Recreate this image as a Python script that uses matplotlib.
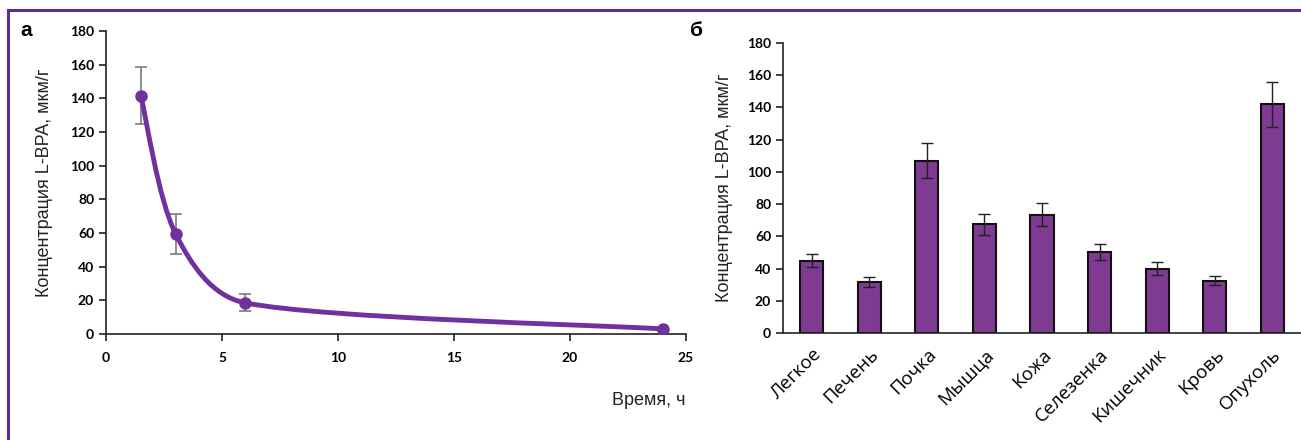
import numpy as np
import matplotlib
matplotlib.use('Agg')
import matplotlib.pyplot as plt
from matplotlib.path import Path
from matplotlib.patches import PathPatch
from matplotlib.lines import Line2D

# panel a: concentration vs time
time_h = [1.5, 3, 6, 24]
conc_time = [141.5, 59.5, 18.5, 3.0]
err_time = [17, 12, 5, 1]

# panel b: organ distribution
organs = ['Легкое', 'Печень', 'Почка', 'Мышца', 'Кожа', 'Селезенка',
          'Кишечник', 'Кровь', 'Опухоль']
conc_organ = [45, 31.5, 107, 67.5, 73.5, 50.5, 40, 32.5, 142]
err_organ = [4, 3, 11, 6.5, 7, 5, 4, 3, 14]

line_c = '#7030a0'
bar_c = '#7f3a91'
frame_c = '#5b2d90'
ylab = 'Концентрация L-BPA, мкм/г'

fig = plt.figure(figsize=(13.01, 4.40), dpi=100)
fig.add_artist(Line2D([8/1301, 8/1301], [0, 1 - 10.5/440], color=frame_c, lw=2.2,
                      transform=fig.transFigure))
fig.add_artist(Line2D([8/1301, 1300/1301], [1 - 10.5/440, 1 - 10.5/440], color=frame_c,
                      lw=2.2, transform=fig.transFigure))


def style(ax):
    for s in ['top', 'right']:
        ax.spines[s].set_visible(False)
    for s in ['left', 'bottom']:
        ax.spines[s].set_color('#222222')
        ax.spines[s].set_linewidth(1.2)
    ax.tick_params(direction='out', length=5, width=1.2, color='#222222')
    for lab in ax.get_yticklabels():
        lab.set_fontfamily('Lato')
        lab.set_fontweight('bold')
        lab.set_fontsize(10)


# ---- panel a
ax1 = fig.add_axes([106/1301, 1 - 334/440, 580/1301, 303/440])
ax1.set_xlim(0, 25)
ax1.set_ylim(0, 180)
ax1.set_xticks(range(0, 26, 5))
ax1.set_yticks(range(0, 181, 20))

# smooth line through the points (bezier, computed in pixel-like units)
sx, sy = 580 / 25, 303 / 180
P = np.column_stack([np.array(time_h) * sx, np.array(conc_time) * sy])
n = len(P)
verts = [P[0]]
codes = [Path.MOVETO]


def tangent(i):
    a = P[i - 1] if i > 0 else P[i]
    b = P[i + 1] if i + 1 < n else P[i]
    return b - a


for i in range(n - 1):
    seg = np.linalg.norm(P[i + 1] - P[i])
    t0, t1 = tangent(i), tangent(i + 1)
    d0 = min(np.linalg.norm(t0) / 6, 0.35 * seg)
    d1 = min(np.linalg.norm(t1) / 6, 0.35 * seg)
    c1 = P[i] + t0 / np.linalg.norm(t0) * d0
    c2 = P[i + 1] - t1 / np.linalg.norm(t1) * d1
    verts += [c1, c2, P[i + 1]]
    codes += [Path.CURVE4] * 3
verts = np.array(verts) / [sx, sy]
ax1.add_patch(PathPatch(Path(verts, codes), fill=False, edgecolor=line_c, lw=3.5,
                        capstyle='round', zorder=3))
ax1.errorbar(time_h, conc_time, yerr=err_time, fmt='none', ecolor='#7a7a7a',
             elinewidth=1.2, capsize=4, capthick=1.2, zorder=2)
ax1.plot(time_h, conc_time, 'o', color=line_c, ms=8, zorder=4)
style(ax1)
for lab in ax1.get_xticklabels():
    lab.set_fontfamily('Lato')
    lab.set_fontweight('bold')
    lab.set_fontsize(10)
ax1.tick_params(axis='x', pad=8)
ax1.set_ylabel(ylab, fontsize=13, family='Liberation Sans', color='#222222', labelpad=12)
ax1.text(1.0, -0.22, 'Время, ч', transform=ax1.transAxes, ha='right', va='center',
         fontsize=13, family='Liberation Sans', color='#222222')
fig.text(20/1301, 1 - 30/440, 'а', fontsize=15, fontweight='bold', va='center',
         family='Liberation Sans')

# ---- panel b
ax2 = fig.add_axes([783/1301, 1 - 333/440, 518/1301, 290/440])
xpos = np.arange(len(organs))
ax2.bar(xpos, conc_organ, width=0.4, color=bar_c, edgecolor='#111111', linewidth=1.5,
        zorder=2)
ax2.errorbar(xpos, conc_organ, yerr=err_organ, fmt='none', ecolor='#222222',
             elinewidth=1.0, capsize=4, capthick=1.0, zorder=3)
ax2.set_xlim(-0.5, 8.5)
ax2.set_ylim(0, 180)
ax2.set_yticks(range(0, 181, 20))
ax2.set_xticks(xpos)
ax2.set_xticklabels(organs, rotation=45, ha='right', rotation_mode='anchor',
                    fontsize=13.5, family='Open Sans')
style(ax2)
ax2.tick_params(axis='x', length=0, pad=9)
ax2.set_ylabel(ylab, fontsize=13, family='Liberation Sans', color='#222222', labelpad=10)
fig.text(690/1301, 1 - 30/440, 'б', fontsize=15, fontweight='bold', va='center',
         family='Liberation Sans')

fig.savefig('out.png', dpi=100)
